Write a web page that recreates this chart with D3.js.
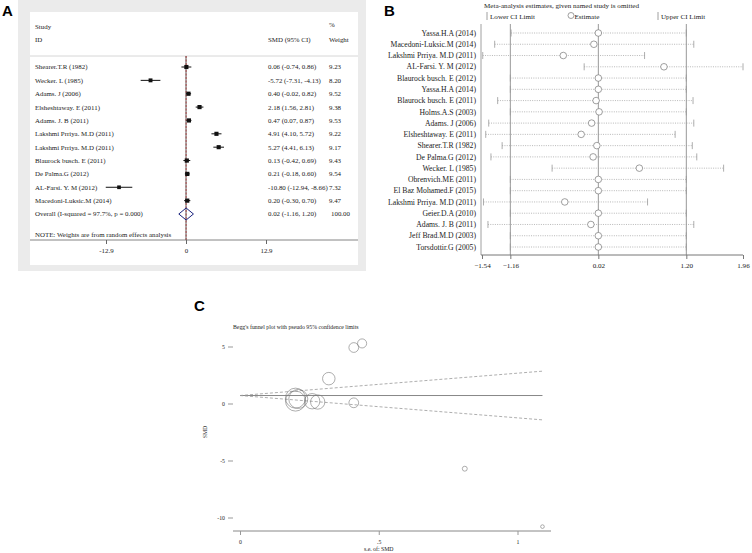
<!DOCTYPE html>
<html>
<head>
<meta charset="utf-8">
<script src="https://cdn.jsdelivr.net/npm/d3@7"></script>
<style>
  body { margin: 0; background: #fff; }
  text { font-family: "Liberation Serif", "DejaVu Serif", serif; fill: #222; }
  .panelLabel { font-family: "Liberation Sans", Arial, sans-serif; font-weight: bold; font-size: 15px; fill: #000; }
</style>
</head>
<body>
<div id="chart"></div>
<script>
// ---- panel A: forest plot data ----
var forestStudies = ["Shearer.T.R (1982)", "Wecker. L (1985)", "Adams. J (2006)", "Elsheshtaway. E (2011)",
    "Adams. J. B (2011)", "Lakshmi Prriya. M.D (2011)", "Lakshmi Prriya. M.D (2011)", "Blaurock busch. E (2011)",
    "De Palma.G (2012)", "AL-Farsi. Y. M (2012)", "Macedoni-Luksic.M (2014)"];
var forestSmd = [0.06, -5.72, 0.40, 2.18, 0.47, 4.91, 5.27, 0.13, 0.21, -10.80, 0.20];
var forestLower = [-0.74, -7.31, -0.02, 1.56, 0.07, 4.10, 4.41, -0.42, -0.18, -12.94, -0.30];
var forestUpper = [0.86, -4.13, 0.82, 2.81, 0.87, 5.72, 6.13, 0.69, 0.60, -8.66, 0.70];
var forestWeight = [9.23, 8.20, 9.52, 9.38, 9.53, 9.22, 9.17, 9.43, 9.54, 7.32, 9.47];
var overallSmd = 0.02, overallLower = -1.16, overallUpper = 1.20;
var forestTicks = [-12.9, 0, 12.9];

// ---- panel B: leave-one-out data ----
var omitStudies = ["Yassa.H.A (2014)", "Macedoni-Luksic.M (2014)", "Lakshmi Prriya. M.D (2011)", "AL-Farsi. Y. M (2012)",
    "Blaurock busch. E (2012)", "Yassa.H.A (2014)", "Blaurock busch. E (2011)", "Holms.A.S (2003)", "Adams. J (2006)",
    "Elsheshtaway. E (2011)", "Shearer.T.R (1982)", "De Palma.G (2012)", "Wecker. L (1985)", "Obrenvich.ME (2011)",
    "El Baz Mohamed.F (2015)", "Lakshmi Prriya. M.D (2011)", "Geier.D.A (2010)", "Adams. J. B (2011)",
    "Jeff Brad.M.D (2003)", "Torsdottir.G (2005)"];
var omitEstimate = [0.02, -0.04, -0.45, 0.90, 0.02, 0.02, -0.01, 0.03, -0.07, -0.21, 0.00, -0.05, 0.57, 0.02, 0.02, -0.43, 0.02, -0.08, 0.02, 0.02];
var omitLower = [-1.15, -1.37, -1.53, -0.17, -1.16, -1.16, -1.33, -1.16, -1.45, -1.49, -1.27, -1.42, -0.60, -1.16, -1.16, -1.52, -1.16, -1.46, -1.16, -1.16];
var omitUpper = [1.20, 1.30, 0.64, 1.96, 1.20, 1.20, 1.29, 1.20, 1.30, 1.05, 1.28, 1.34, 1.70, 1.20, 1.20, 0.68, 1.20, 1.30, 1.20, 1.20];
var omitTicks = [-1.54, -1.16, 0.02, 1.20, 1.96];

// ---- panel C: funnel plot data ----
var funnelSe = [0.41, 0.81, 0.21, 0.32, 0.20, 0.41, 0.44, 0.28, 0.20, 1.09, 0.26];
var fixedSmd = 0.70;
var funnelXTicks = [0, 0.5, 1];
var funnelYTicks = [5, 0, -5, -10];

var width = 752, height = 553;
var svg = d3.select("#chart").append("svg")
    .attr("width", width)
    .attr("height", height);

// ================= Panel A =================
var gA = svg.append("g");
gA.append("rect").attr("x", 18).attr("y", 0).attr("width", 348).attr("height", 271).attr("fill", "#ebebeb");
gA.append("rect").attr("x", 30).attr("y", 12).attr("width", 328).attr("height", 253).attr("fill", "#fff");
svg.append("text").attr("class", "panelLabel").attr("x", 2).attr("y", 16).text("A");

var xA = d3.scaleLinear().domain([-12.9, 12.9]).range([106, 266]);
var yA = d3.scaleLinear().domain([0, 11]).range([67, 214]);
var sq = d3.scaleSqrt().domain([0, 9.54]).range([0, 4.2]);

var fs = "6.9px";
gA.append("text").attr("x", 35).attr("y", 29).style("font-size", fs).text("Study");
gA.append("text").attr("x", 35).attr("y", 42).style("font-size", fs).text("ID");
gA.append("text").attr("x", 268).attr("y", 42).style("font-size", fs).text("SMD (95% CI)");
gA.append("text").attr("x", 329).attr("y", 27).style("font-size", fs).text("%");
gA.append("text").attr("x", 329).attr("y", 42).style("font-size", fs).text("Weight");
gA.append("line").attr("x1", 30).attr("x2", 358).attr("y1", 56).attr("y2", 56).attr("stroke", "#ccc").attr("stroke-width", 0.8);

// reference lines
gA.append("line").attr("x1", xA(0)).attr("x2", xA(0)).attr("y1", 56).attr("y2", 240)
    .attr("stroke", "#333").attr("stroke-width", 0.8);
gA.append("line").attr("x1", xA(overallSmd)).attr("x2", xA(overallSmd)).attr("y1", 56).attr("y2", 240)
    .attr("stroke", "#b03030").attr("stroke-width", 0.8).attr("stroke-dasharray", "2,1.5");

forestStudies.forEach(function(name, i) {
    var y = yA(i);
    gA.append("line").attr("x1", xA(forestLower[i])).attr("x2", xA(forestUpper[i]))
        .attr("y1", y).attr("y2", y).attr("stroke", "#111").attr("stroke-width", 1);
    var s = sq(forestWeight[i]);
    gA.append("rect").attr("x", xA(forestSmd[i]) - s / 2).attr("y", y - s / 2)
        .attr("width", s).attr("height", s).attr("fill", "#111");
    gA.append("text").attr("x", 35).attr("y", y).attr("dy", "0.35em").style("font-size", fs).text(name);
    gA.append("text").attr("x", 268).attr("y", y).attr("dy", "0.35em").style("font-size", fs)
        .text(forestSmd[i].toFixed(2) + " (" + forestLower[i].toFixed(2) + ", " + forestUpper[i].toFixed(2) + ")");
    gA.append("text").attr("x", 329).attr("y", y).attr("dy", "0.35em").style("font-size", fs).text(forestWeight[i].toFixed(2));
});

var yo = yA(11);
var diamond = [[xA(overallLower), yo], [xA(overallSmd), yo - 6], [xA(overallUpper), yo], [xA(overallSmd), yo + 6]];
gA.append("path").attr("d", "M" + diamond.join("L") + "Z")
    .attr("fill", "none").attr("stroke", "#1a237e").attr("stroke-width", 1);
gA.append("text").attr("x", 35).attr("y", yo).attr("dy", "0.35em").style("font-size", fs)
    .text("Overall  (I-squared = 97.7%, p = 0.000)");
gA.append("text").attr("x", 268).attr("y", yo).attr("dy", "0.35em").style("font-size", fs)
    .text(overallSmd.toFixed(2) + " (" + overallLower.toFixed(2) + ", " + overallUpper.toFixed(2) + ")");
gA.append("text").attr("x", 331).attr("y", yo).attr("dy", "0.35em").style("font-size", fs).text("100.00");
gA.append("text").attr("x", 35).attr("y", 235).attr("dy", "0.35em").style("font-size", fs)
    .text("NOTE: Weights are from random effects analysis");

gA.append("line").attr("x1", 30).attr("x2", 358).attr("y1", 240).attr("y2", 240).attr("stroke", "#666").attr("stroke-width", 0.8);
var axA = gA.append("g").attr("transform", "translate(0,240)")
    .call(d3.axisBottom(xA).tickValues(forestTicks).tickSize(4).tickPadding(4).tickFormat(function(d) { return d; }));
axA.select(".domain").remove();
axA.selectAll("line").attr("stroke", "#666");
axA.selectAll("text").style("font-size", fs).style("font-family", "Liberation Serif").attr("fill", "#222");

// ================= Panel B =================
var gB = svg.append("g");
svg.append("text").attr("class", "panelLabel").attr("x", 384).attr("y", 16).text("B");
var xB = d3.scaleLinear().domain([-1.54, 1.96]).range([482, 743]);
var yB = d3.scalePoint().domain(d3.range(omitStudies.length)).range([33, 247]);
var fb = "7.7px";

gB.append("text").attr("x", 484).attr("y", 7.5).style("font-size", "7.1px").text("Meta-analysis estimates, given named study is omitted");
// legend
gB.append("line").attr("x1", 487).attr("x2", 487).attr("y1", 12).attr("y2", 20).attr("stroke", "#888").attr("stroke-width", 0.8);
gB.append("text").attr("x", 490).attr("y", 18.5).style("font-size", "7.1px").text("Lower CI Limit");
gB.append("circle").attr("cx", 571).attr("cy", 15.5).attr("r", 3).attr("fill", "none").attr("stroke", "#777").attr("stroke-width", 0.7);
gB.append("text").attr("x", 574.5).attr("y", 18.5).style("font-size", "7.1px").text("Estimate");
gB.append("line").attr("x1", 658).attr("x2", 658).attr("y1", 12).attr("y2", 20).attr("stroke", "#888").attr("stroke-width", 0.8);
gB.append("text").attr("x", 661).attr("y", 18.5).style("font-size", "7.1px").text("Upper CI Limit");

// main CI and estimate lines
[overallLower, overallSmd, overallUpper].forEach(function(v) {
    gB.append("line").attr("x1", xB(v)).attr("x2", xB(v)).attr("y1", 24).attr("y2", 255)
        .attr("stroke", "#999").attr("stroke-width", 1);
});
gB.append("line").attr("x1", 481).attr("x2", 481).attr("y1", 24).attr("y2", 255).attr("stroke", "#888").attr("stroke-width", 0.8);

omitStudies.forEach(function(name, i) {
    var y = yB(i);
    gB.append("line").attr("x1", xB(omitLower[i])).attr("x2", xB(omitUpper[i])).attr("y1", y).attr("y2", y)
        .attr("stroke", "#999").attr("stroke-width", 0.7).attr("stroke-dasharray", "1,1.3");
    [omitLower[i], omitUpper[i]].forEach(function(v) {
        gB.append("line").attr("x1", xB(v)).attr("x2", xB(v)).attr("y1", y - 3.5).attr("y2", y + 3.5)
            .attr("stroke", "#999").attr("stroke-width", 0.8);
    });
    gB.append("circle").attr("cx", xB(omitEstimate[i])).attr("cy", y).attr("r", 3.3)
        .attr("fill", "#fff").attr("stroke", "#777").attr("stroke-width", 0.7);
    gB.append("text").attr("x", 476).attr("y", y).attr("dy", "0.35em").attr("text-anchor", "end")
        .style("font-size", fb).text(name);
});

var axB = gB.append("g").attr("transform", "translate(0,255)")
    .call(d3.axisBottom(xB).tickValues(omitTicks).tickSize(4).tickPadding(4).tickFormat(d3.format(".2f")));
axB.select(".domain").attr("d", "M481,0H743").attr("stroke", "#777");
axB.selectAll("line").attr("stroke", "#777");
axB.selectAll("text").style("font-size", "7.1px").style("font-family", "Liberation Serif").attr("fill", "#222");

// ================= Panel C =================
var gC = svg.append("g");
svg.append("text").attr("class", "panelLabel").attr("x", 194).attr("y", 311).text("C");
var xC = d3.scaleLinear().domain([0, 1]).range([240, 517.5]);
var yC = d3.scaleLinear().domain([-10, 5]).range([517.5, 346.5]);
var rC = d3.scaleSqrt().domain([0, 25]).range([0, 10]);
var fc = "5.8px";

gC.append("text").attr("x", 233).attr("y", 329).style("font-size", fc)
    .text("Begg's funnel plot with pseudo 95% confidence limits");

var seMax = d3.max(funnelSe);
gC.append("line").attr("x1", xC(0)).attr("x2", xC(seMax)).attr("y1", yC(fixedSmd)).attr("y2", yC(fixedSmd))
    .attr("stroke", "#888").attr("stroke-width", 1);
[1, -1].forEach(function(sign) {
    gC.append("line").attr("x1", xC(0)).attr("y1", yC(fixedSmd))
        .attr("x2", xC(seMax)).attr("y2", yC(fixedSmd + sign * 1.96 * seMax))
        .attr("stroke", "#999").attr("stroke-width", 0.8).attr("stroke-dasharray", "3,2");
});

forestSmd.forEach(function(v, i) {
    gC.append("circle").attr("cx", xC(funnelSe[i])).attr("cy", yC(v))
        .attr("r", rC(1 / (funnelSe[i] * funnelSe[i])))
        .attr("fill", "none").attr("stroke", "#777").attr("stroke-width", 0.6);
});

var axCy = gC.append("g").attr("transform", "translate(233,0)")
    .call(d3.axisLeft(yC).tickValues(funnelYTicks).tickSize(5).tickPadding(3).tickFormat(function(d) { return d; }));
axCy.select(".domain").remove();
axCy.selectAll("line").attr("stroke", "#999");
axCy.selectAll("text").style("font-size", fc).style("font-family", "Liberation Serif").attr("fill", "#222");
gC.append("text").attr("transform", "translate(207,432) rotate(-90)").attr("text-anchor", "middle")
    .style("font-size", fc).text("SMD");

var axCx = gC.append("g").attr("transform", "translate(0,531)")
    .call(d3.axisBottom(xC).tickValues(funnelXTicks).tickSize(4).tickPadding(5)
        .tickFormat(function(d) { return d === 0.5 ? ".5" : d; }));
axCx.select(".domain").attr("d", "M233,0H551").attr("stroke", "#888");
axCx.selectAll("line").attr("stroke", "#999");
axCx.selectAll("text").style("font-size", fc).style("font-family", "Liberation Serif").attr("fill", "#222");
gC.append("text").attr("x", xC(0.5)).attr("y", 551).attr("text-anchor", "middle").style("font-size", fc).text("s.e. of: SMD");
</script>
</body>
</html>
